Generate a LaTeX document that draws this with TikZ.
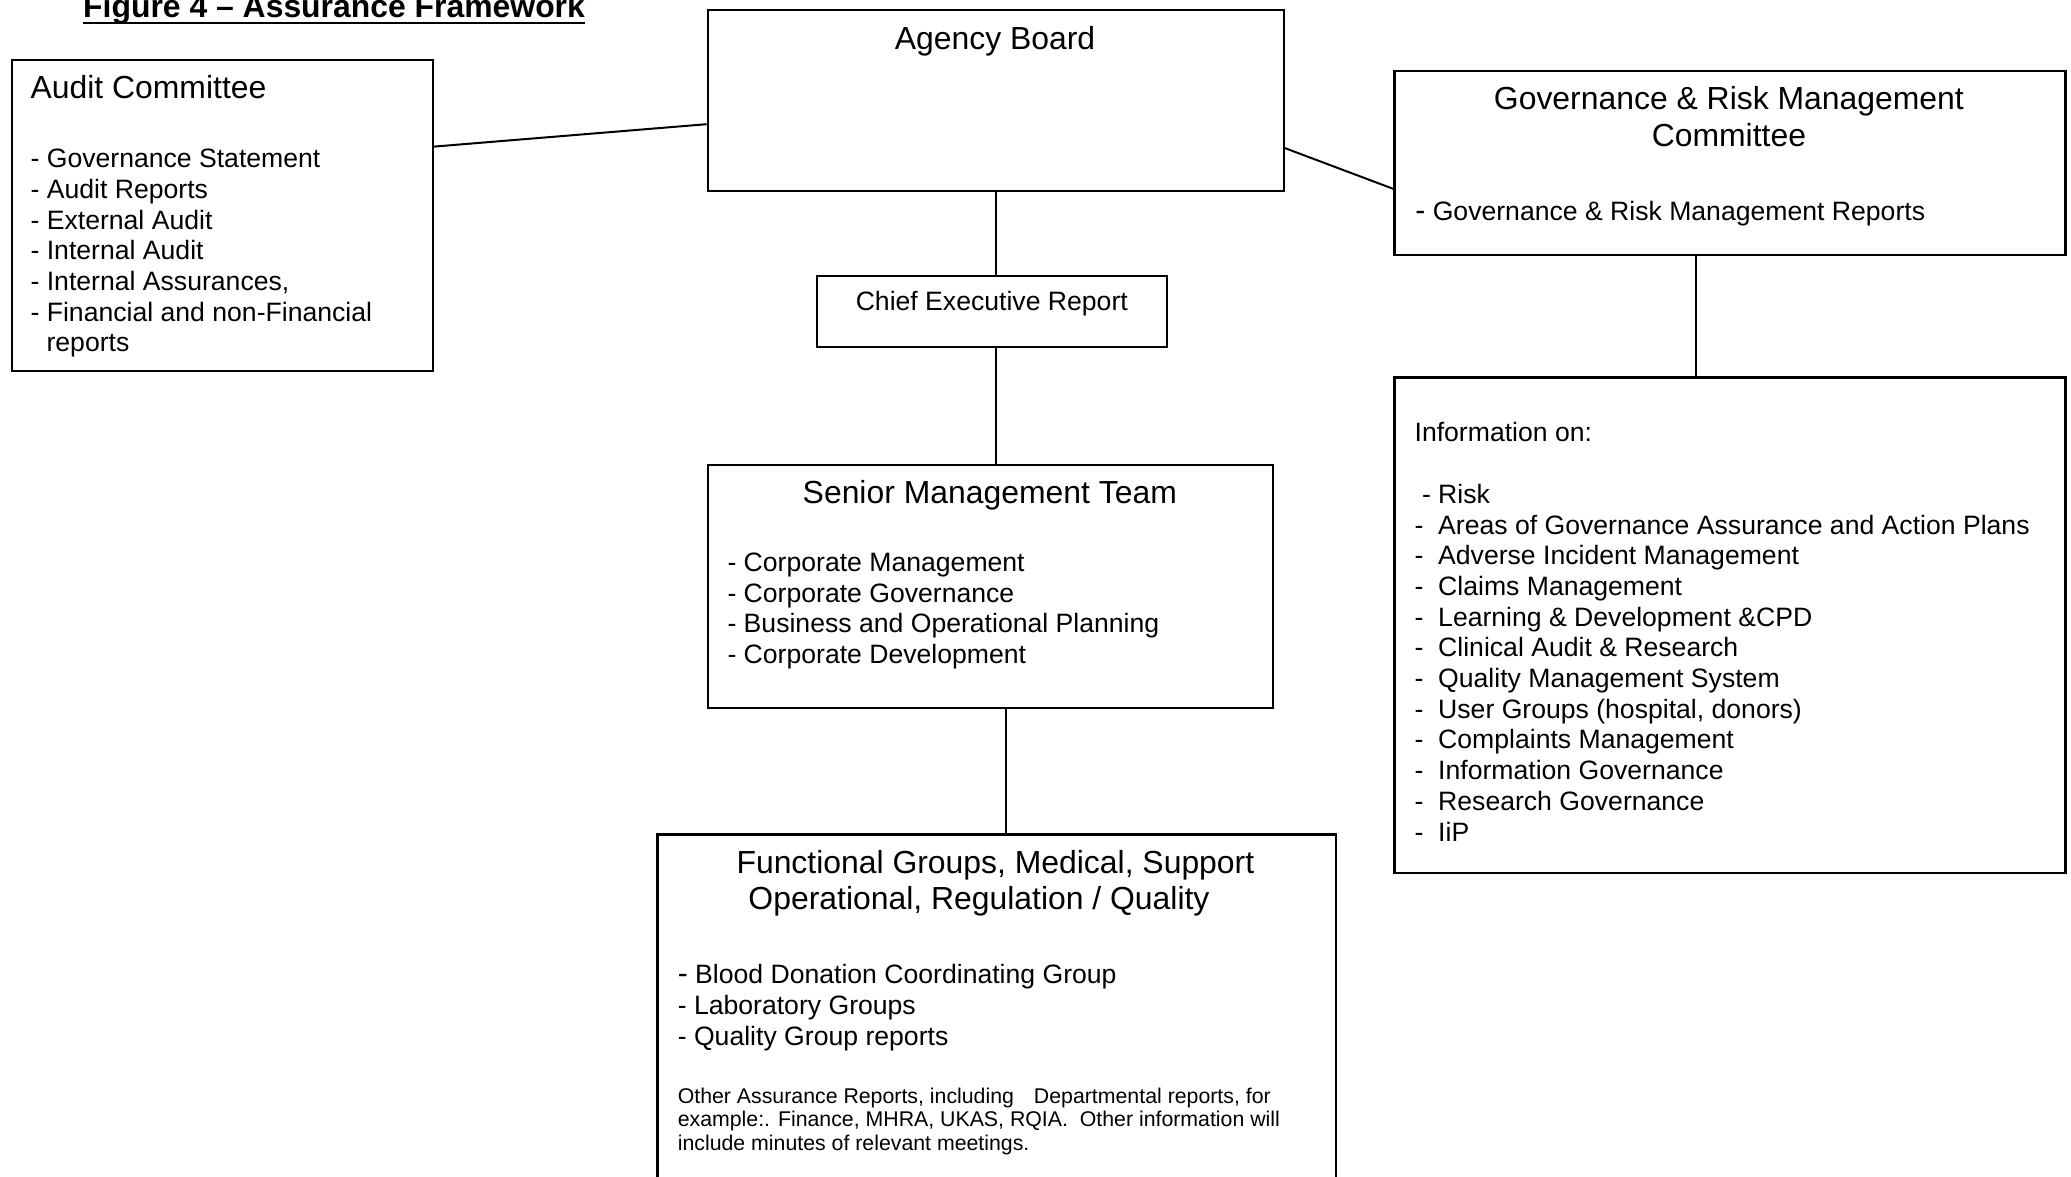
\documentclass[tikz,border=0pt]{standalone}
\usepackage{fontspec}
\setmainfont{Liberation Sans}
\newcommand\bodyfnt{\fontsize{26.6pt}{30.6pt}\selectfont}
\newcommand\headfnt{\fontsize{31.9pt}{36.7pt}\selectfont}
\newcommand\smallfnt{\fontsize{21.3pt}{23.5pt}\selectfont}
\newcommand\titlefnt{\fontsize{31.9pt}{36pt}\selectfont\bfseries}
\newcommand\bigdash{{\fontsize{30pt}{34pt}\selectfont -}}
\begin{document}
\begin{tikzpicture}[x=1pt,y=-1pt,
  box/.style={draw, line width=2.1pt, inner sep=0pt, rectangle, anchor=north west},
  link/.style={line width=2pt},
  txt/.style={inner sep=0pt, anchor=base west, font=\bodyfnt},
  ctxt/.style={inner sep=0pt, anchor=base, font=\bodyfnt},
  head/.style={inner sep=0pt, anchor=base, font=\headfnt},
  lhead/.style={inner sep=0pt, anchor=base west, font=\headfnt},
  small/.style={inner sep=0pt, anchor=base west, font=\smallfnt}]
\useasboundingbox (0,0) rectangle (2071,1177);
\clip (0,0) rectangle (2071,1177);

% title
\node[inner sep=0pt, anchor=base west, font=\titlefnt] (title) at (83,18) {Figure 4 – Assurance Framework};
\draw[line width=2.6pt] ([yshift=-5pt]title.base west) -- ([yshift=-5pt]title.base east);

% boxes
\node[box, minimum width=421.3pt, minimum height=310.4pt] (audit) at (10.6,59.4) {};
\node[box, minimum width=575.9pt, minimum height=181pt] (agency) at (706.6,9.2) {};
\node[box, minimum width=671pt, minimum height=183.6pt] (gov) at (1393.4,70) {};
\node[box, minimum width=350pt, minimum height=71.5pt] (cer) at (816.3,274.7) {};
\node[box, minimum width=565.4pt, minimum height=243pt] (smt) at (706.6,463.6) {};
\node[box, minimum width=678.9pt, minimum height=400pt] (fg) at (656.4,833.4) {};
\node[box, minimum width=671pt, minimum height=495.3pt] (info) at (1393.4,376.4) {};

% connectors
\draw[link] ([yshift=-87.2pt]audit.north east) -- ([yshift=-115pt]agency.north west);
\draw[link] ([yshift=-138.8pt]agency.north east) -- ([yshift=-118.9pt]gov.north west);
\draw[link] (agency.south) -- (agency.south |- cer.north);
\draw[link] (agency.south |- cer.south) -- (agency.south |- smt.north);
\coordinate (s1) at ([xshift=15.7pt]smt.south);
\draw[link] (s1) -- (s1 |- fg.north);
\coordinate (g1) at ([xshift=-34.3pt]gov.south);
\draw[link] (g1) -- (g1 |- info.north);

% Audit Committee
\node[lhead] (auditT) at (30.4,98.3) {Audit Committee};
\foreach \t [count=\i from 0] in {{- Governance Statement},{- Audit Reports},{- External Audit},{- Internal Audit},{- Internal Assurances,},{- Financial and non-Financial}}
  \node[txt] (audit-\i) at (30.4,168+30.6*\i) {\t};
\node[txt] (audit-last) at (46.4,351.6) {reports};

% Agency Board
\node[head] (agencyT) at (995,49.3) {Agency Board};

% Governance
\node[head] (govT1) at (1728.9,110) {Governance \& Risk Management};
\node[head] (govT2) at (1728.9,146.7) {Committee};
\node[txt] (govI) at (1415.2,220.7) {\bigdash{} Governance \& Risk Management Reports};

% Chief Executive Report
\node[ctxt] (cerT) at (991.8,310) {Chief Executive Report};

% Senior Management Team
\node[head] (smtT) at (989.8,503.3) {Senior Management Team};
\foreach \t [count=\i from 0] in {{- Corporate Management},{- Corporate Governance},{- Business and Operational Planning},{- Corporate Development}}
  \node[txt] (smt-\i) at (727.3,571.7+30.6*\i) {\t};

% Functional groups
\node[head] (fgT1) at (995.4,873.3) {Functional Groups, Medical, Support};
\node[head] (fgT2) at (979,909.3) {Operational, Regulation / Quality};
\node[txt] (fg-0) at (677.6,983.3) {\bigdash{} Blood Donation Coordinating Group};
\node[txt] (fg-1) at (677.6,1014.5) {- Laboratory Groups};
\node[txt] (fg-2) at (677.6,1045.7) {- Quality Group reports};
\node[small] (fgS1) at (677.6,1103) {Other Assurance Reports, including\hspace{20pt}Departmental reports, for};
\node[small] (fgS2) at (677.6,1126.5) {example:. Finance, MHRA, UKAS, RQIA.\ \ Other information will};
\node[small] (fgS3) at (677.6,1150) {include minutes of relevant meetings.};

% Information box
\node[txt] (infoT) at (1414.4,441.7) {Information on:};
\node[txt] (info-r) at (1421.8,503.3) {\makebox[16.2pt][l]{-}Risk};
\foreach \t [count=\i from 0] in {{Areas of Governance Assurance and Action Plans},{Adverse Incident Management},{Claims Management},{Learning \& Development \&CPD},{Clinical Audit \& Research},{Quality Management System},{User Groups (hospital, donors)},{Complaints Management},{Information Governance},{Research Governance},{IiP}}
  \node[txt] (info-\i) at (1414.4,534+30.7*\i) {\makebox[23.6pt][l]{-}\t};
\end{tikzpicture}
\end{document}
